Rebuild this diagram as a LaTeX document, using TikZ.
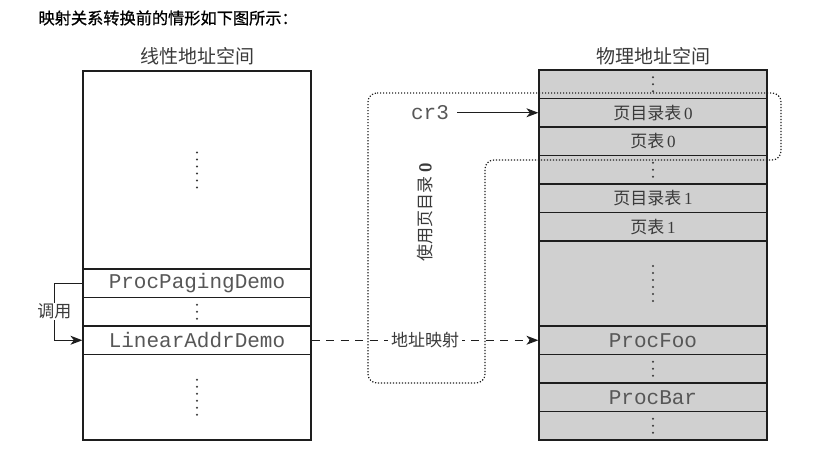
\documentclass[tikz,border=0pt]{standalone}
\usepackage{fontspec}
\setmainfont{Liberation Serif}
\setmonofont{Liberation Mono}
\newfontfamily\cjk{Noto Sans CJK SC}
\newfontfamily\cjkgras{Noto Sans CJK SC}[FakeBold=0.8]
\usetikzlibrary{positioning, arrows.meta}

\definecolor{gris}{HTML}{D0D0D0}
\definecolor{texte}{HTML}{3A3A3A}
\definecolor{trait}{HTML}{1E1E1E}

\tikzset{
  fleche/.style={-{Stealth[length=12pt, width=9pt, inset=3.5pt]}, line width=1.1pt, draw=trait},
  case/.style={draw=trait, line width=1.2pt, minimum width=228pt, minimum height=28.5pt, inner sep=0pt, text=texte},
  casegrise/.style={case, fill=gris},
  mono/.style={font=\ttfamily\fontsize{21}{21}\selectfont, text=texte!85},
  chinois/.style={font=\cjk\fontsize{17}{17}\selectfont, text=texte},
}

% points verticaux dans une case
\newcommand{\pointsv}[2]{%
  \foreach \k in {1,...,#2}
    \fill[texte] ([yshift={(\k-(#2+1)/2)*7pt}]#1.center) circle(1.1);}

\begin{document}
\begin{tikzpicture}[x=1pt, y=-1pt]
  \useasboundingbox (0,0) rectangle (815,464);

  % Titre
  \node[anchor=west, font=\cjkgras\fontsize{16.2}{16.2}\selectfont] (titre) at (35,18) {映射关系转换前的情形如下图所示：};

  % Espace lineaire
  \node[chinois, font=\cjk\fontsize{19}{19}\selectfont] (tlin) at (197,56) {线性地址空间};
  \node[case, minimum height=198pt] (haut) at (197,170) {};
  \node[case, mono] (ppd) at (197,283.25) {ProcPagingDemo};
  \node[case] (pts) at (197,311.75) {};
  \node[case, mono] (lad) at (197,340.25) {LinearAddrDemo};
  \node[case, minimum height=85.5pt] (bas) at (197,397.25) {};
  \pointsv{haut}{6}
  \pointsv{pts}{3}
  \pointsv{bas}{6}

  % Espace physique
  \node[chinois, font=\cjk\fontsize{19}{19}\selectfont] (tphy) at (653,56) {物理地址空间};
  \node[casegrise] (r1) at (653,84.25) {};
  \node[casegrise, chinois] (pd0) at (653,112.75) {页目录表{\rmfamily\,0}};
  \node[casegrise, chinois] (pt0) at (653,141.25) {页表{\rmfamily\,0}};
  \node[casegrise] (r4) at (653,169.75) {};
  \node[casegrise, chinois] (pd1) at (653,198.25) {页目录表{\rmfamily\,1}};
  \node[casegrise, chinois] (pt1) at (653,226.75) {页表{\rmfamily\,1}};
  \node[casegrise, minimum height=85pt] (r7) at (653,283.5) {};
  \node[casegrise, mono] (foo) at (653,340.25) {ProcFoo};
  \node[casegrise] (r9) at (653,368.75) {};
  \node[casegrise, mono] (bar) at (653,397.25) {ProcBar};
  \node[casegrise] (r11) at (653,425.75) {};
  \pointsv{r1}{3}
  \pointsv{r4}{3}
  \pointsv{r7}{6}
  \pointsv{r9}{3}
  \pointsv{r11}{3}

  % Appel
  \draw[fleche] (ppd.west) -- ++(-28,0) |- node[pos=0.25, fill=white, inner sep=1pt, chinois] (appel) {调用} (lad.west);

  % cr3
  \node[mono, left=86pt of pd0.west] (cr3) {cr3};
  \draw[fleche] (cr3.east) ++(5,0) -- (pd0.west);

  % Zone pointillee
  \draw[line width=1.2pt, trait, dash pattern=on 1.2pt off 1.8pt, rounded corners=9]
    (368,93) -- (781,93) -- (781,160) -- (485,160) -- (485,383) -- (368,383) -- cycle;
  \node[chinois, rotate=90] (usage) at (425,212) {使用页目录 {\sffamily\bfseries 0}};

  % Correspondance
  \draw[fleche, dash pattern=on 8pt off 6.5pt] (lad.east) -- node[fill=white, inner sep=3pt, chinois] (carte) {地址映射} (foo.west);

\end{tikzpicture}
\end{document}
